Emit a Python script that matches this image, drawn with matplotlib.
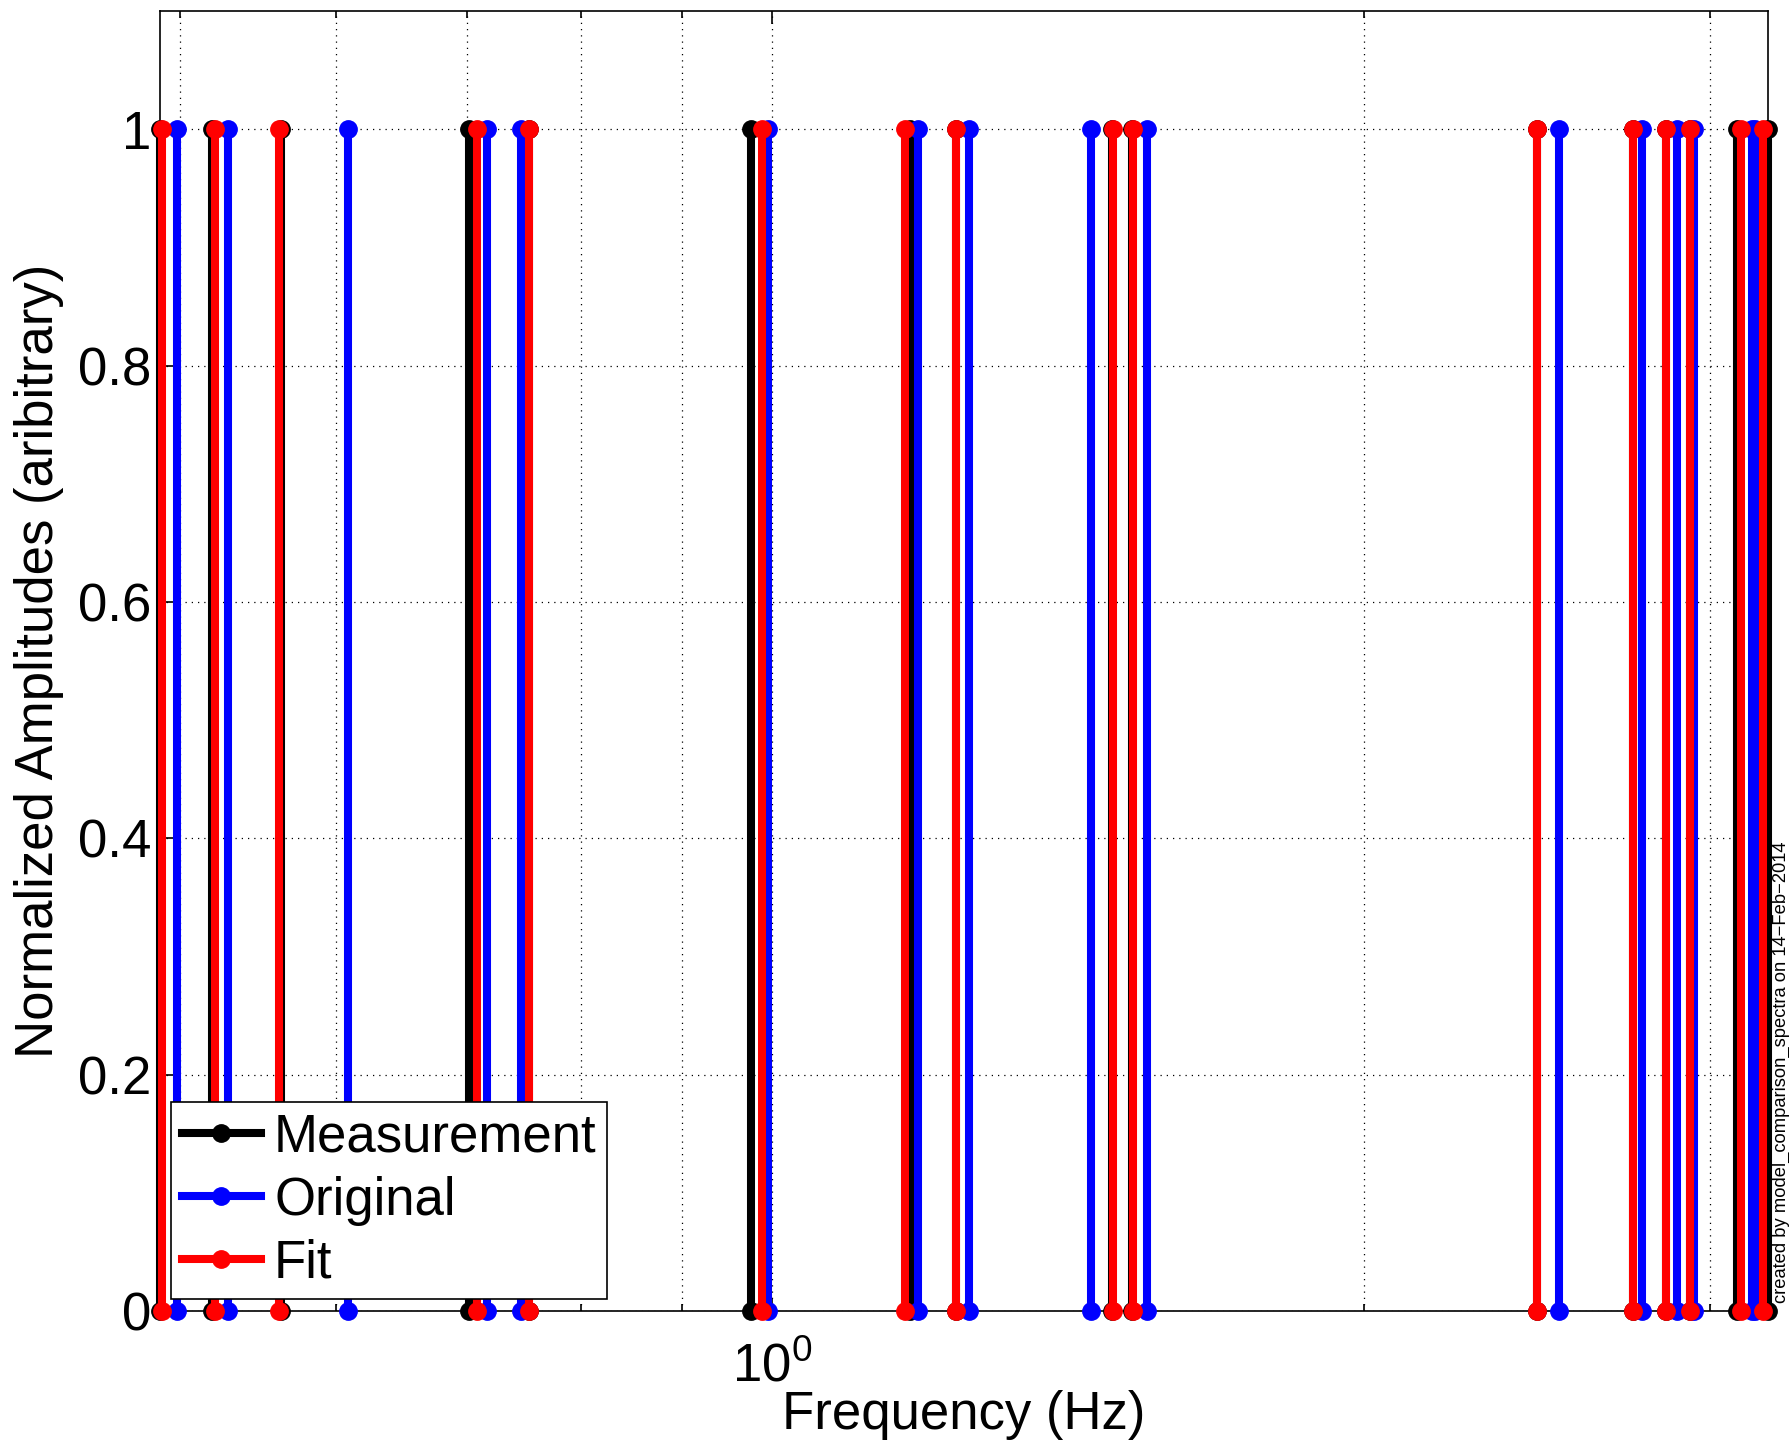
import matplotlib
matplotlib.use('Agg')
import matplotlib.pyplot as plt
from matplotlib.ticker import NullFormatter, FixedLocator

plt.rcParams['font.family'] = ['Liberation Sans', 'DejaVu Sans']
plt.rcParams['mathtext.fontset'] = 'custom'
plt.rcParams['mathtext.rm'] = 'Liberation Sans'

# resonance frequencies (Hz), each drawn as a stem from 0 to 1
measurement = [0.4884, 0.5190, 0.5628, 0.7014, 0.7523, 0.9757, 1.1754, 1.2406,
               1.4894, 1.5248, 2.4493, 2.7418, 2.8490, 2.9305, 3.0970, 3.2108]
original = [0.4985, 0.5288, 0.6085, 0.7161, 0.7453, 0.9954, 1.1866, 1.2595,
            1.4530, 1.5518, 2.5134, 2.7707, 2.8860, 2.9446, 3.1515, 3.1623]
fit = [0.4896, 0.5208, 0.5614, 0.7079, 0.7523, 0.9883, 1.1687, 1.2406,
       1.4912, 1.5266, 2.4493, 2.7418, 2.8490, 2.9305, 3.1120, 3.1922]
amp_low, amp_high = 0.0, 1.0

series = [('Measurement', measurement, 'k'),
          ('Original', original, 'b'),
          ('Fit', fit, 'r')]

fs = 38

fig = plt.figure(figsize=(17.89, 14.48), dpi=100)
ax = fig.add_axes([0.0894, 0.0946, 0.8989, 0.8978])

for name, freqs, col in series:
    for i, f in enumerate(freqs):
        ax.plot([f, f], [amp_low, amp_high], '-o', color=col, lw=5.8,
                markersize=12.5, markeredgecolor=col, clip_on=False,
                label=name if i == 0 else None, zorder=3)

ax.set_xscale('log')
ax.set_xlim(min(measurement), max(measurement))
ax.set_ylim(0, 1.1)
ax.set_yticks([0, 0.2, 0.4, 0.6, 0.8, 1.0])
ax.set_yticklabels(['0', '0.2', '0.4', '0.6', '0.8', '1'])
ax.xaxis.set_major_locator(FixedLocator([1.0]))
ax.xaxis.set_minor_locator(FixedLocator([0.5, 0.6, 0.7, 0.8, 0.9, 2, 3]))
ax.xaxis.set_minor_formatter(NullFormatter())
ax.set_xticklabels(['$10^0$'])

ax.tick_params(which='both', direction='in', top=True, right=True,
               labelsize=fs, width=1.2)
ax.tick_params(which='major', length=9, pad=6)
ax.tick_params(axis='x', which='major', pad=22)
ax.tick_params(which='minor', length=5)
ax.grid(True, which='both', linestyle=(0, (1, 4)), color='k', linewidth=0.9)
for s in ax.spines.values():
    s.set_linewidth(1.2)

# x label placed directly under the axes, as in the MATLAB export
fig.text(0.5388, 0.023, 'Frequency (Hz)', fontsize=fs, ha='center', va='center')
ax.set_ylabel('Normalized Amplitudes (aribitrary)', fontsize=fs, labelpad=10)

leg = ax.legend(loc='lower left', bbox_to_anchor=(0.007, 0.009), fontsize=fs,
                frameon=True, fancybox=False, framealpha=1, edgecolor='k',
                handlelength=1.5, handletextpad=0.25, labelspacing=0.25,
                borderpad=0.2, borderaxespad=0)
leg.get_frame().set_linewidth(1.2)

fig.text(0.9955, 0.10, 'created by model_comparison_spectra on 14\u2212Feb\u22122014',
         rotation=90, fontsize=13.2, ha='center', va='bottom')

fig.savefig('out.png', dpi=100)
